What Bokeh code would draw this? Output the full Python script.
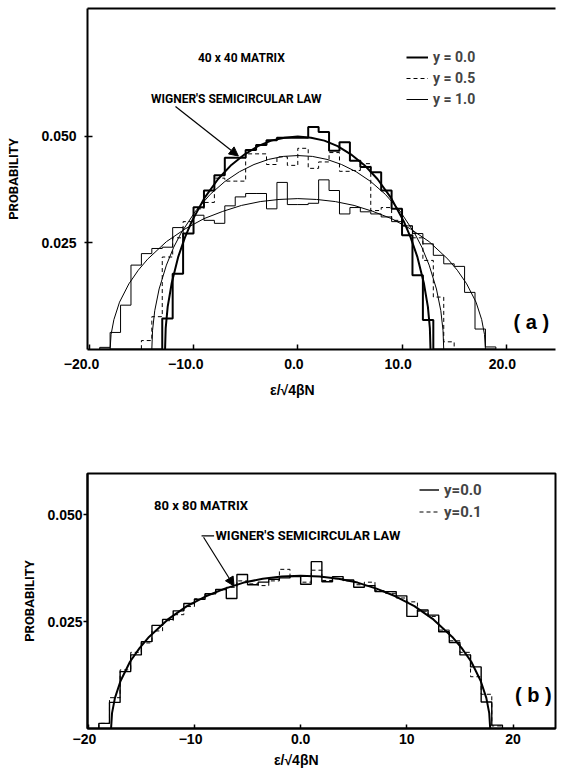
import math
from bokeh.plotting import figure
from bokeh.layouts import column
from bokeh.models import (Range1d, FixedTicker, LinearAxis, Label, Arrow,
                          NormalHead, Legend, LegendItem)
from bokeh.embed import file_html
from bokeh.resources import INLINE
from bokeh.core.properties import value

# ---------------- data ----------------
bin_edges = [-19, -18, -17, -16, -15, -14, -13, -12, -11, -10, -9, -8, -7, -6, -5, -4, -3, -2, -1,
             0, 1, 2, 3, 4, 5, 6, 7, 8, 9, 10, 11, 12, 13, 14, 15, 16, 17, 18, 19]

# panel (a): 40 x 40 matrix histograms (bins of width 1, from -19 to 19)
hist_a_y00 = [0, 0, 0, 0, 0, 0, 0.0073, 0.0178, 0.0272, 0.0334, 0.0373, 0.0409, 0.0450, 0.0450,
              0.0468, 0.0480, 0.0491, 0.0497, 0.0497, 0.0497, 0.0522, 0.0510, 0.0466, 0.0486,
              0.0443, 0.0428, 0.0416, 0.0373, 0.0330, 0.0268, 0.0174, 0.0069, 0, 0, 0, 0, 0, 0]
hist_a_y05 = [0, 0, 0, 0, 0.0021, 0.0077, 0.0217, 0.0262, 0.0300, 0.0330, 0.0345, 0.0402, 0.0395,
              0.0395, 0.0459, 0.0459, 0.0434, 0.0452, 0.0432, 0.0472, 0.0425, 0.0440, 0.0462,
              0.0418, 0.0420, 0.0436, 0.0326, 0.0333, 0.0303, 0.0290, 0.0262, 0.0209, 0.0123,
              0.0018, 0, 0, 0, 0]
hist_a_y10 = [0.0005, 0.0040, 0.0104, 0.0198, 0.0225, 0.0237, 0.0240, 0.0286, 0.0272, 0.0315,
              0.0303, 0.0296, 0.0337, 0.0358, 0.0366, 0.0366, 0.0330, 0.0392, 0.0340, 0.0340,
              0.0343, 0.0398, 0.0373, 0.0318, 0.0333, 0.0323, 0.0318, 0.0311, 0.0300, 0.0290,
              0.0272, 0.0248, 0.0221, 0.0201, 0.0195, 0.0134, 0.0048, 0.0006]

# panel (b): 80 x 80 matrix histograms
hist_b_y00 = [0.0012, 0.0061, 0.0133, 0.0172, 0.0203, 0.0241, 0.0255, 0.0275, 0.0292, 0.0302,
              0.0315, 0.0325, 0.0304, 0.0360, 0.0336, 0.0342, 0.0349, 0.0352, 0.0355, 0.0337,
              0.0390, 0.0343, 0.0355, 0.0347, 0.0330, 0.0334, 0.0320, 0.0320, 0.0310, 0.0262,
              0.0277, 0.0265, 0.0226, 0.0201, 0.0172, 0.0144, 0.0062, 0.0008]
hist_b_y01 = [0.0012, 0.0072, 0.0137, 0.0178, 0.0200, 0.0228, 0.0252, 0.0266, 0.0285, 0.0303,
              0.0314, 0.0324, 0.0330, 0.0345, 0.0338, 0.0334, 0.0345, 0.0372, 0.0356, 0.0342,
              0.0370, 0.0346, 0.0350, 0.0345, 0.0336, 0.0342, 0.0322, 0.0316, 0.0305, 0.0296,
              0.0274, 0.0262, 0.0230, 0.0205, 0.0178, 0.0121, 0.0080, 0.0006]

# Wigner semicircle curves
curve_a00_x = [-12.73, -12.67, -12.48, -12.09, -11.46, -10.82, -10.18, -8.91, -7.64, -6.37, -5.09,
               -3.82, -2.55, -1.27, 0.0, 1.27, 2.55, 3.82, 5.09, 6.37, 7.64, 8.91, 10.18, 10.82,
               11.46, 12.09, 12.48, 12.67, 12.73]
curve_a00_y = [0.0, 0.0050, 0.0100, 0.0156, 0.0218, 0.0263, 0.0300, 0.0357, 0.0400, 0.0433, 0.0458,
               0.0477, 0.0490, 0.0497, 0.0500, 0.0497, 0.0490, 0.0477, 0.0458, 0.0433, 0.0400,
               0.0357, 0.0300, 0.0263, 0.0218, 0.0156, 0.0100, 0.0050, 0.0]
curve_a05_x = [-14.0, -13.93, -13.72, -13.30, -12.60, -11.90, -11.20, -9.80, -8.40, -7.00, -5.60,
               -4.20, -2.80, -1.40, 0.0, 1.40, 2.80, 4.20, 5.60, 7.00, 8.40, 9.80, 11.20, 11.90,
               12.60, 13.30, 13.72, 13.93, 14.0]
curve_a05_y = [0.0, 0.0045, 0.0091, 0.0142, 0.0198, 0.0240, 0.0273, 0.0325, 0.0364, 0.0394, 0.0417,
               0.0434, 0.0446, 0.0453, 0.0455, 0.0453, 0.0446, 0.0434, 0.0417, 0.0394, 0.0364,
               0.0325, 0.0273, 0.0240, 0.0198, 0.0142, 0.0091, 0.0045, 0.0]
curve_a10_x = [-18.0, -17.91, -17.64, -17.10, -16.20, -15.30, -14.40, -12.60, -10.80, -9.00, -7.20,
               -5.40, -3.60, -1.80, 0.0, 1.80, 3.60, 5.40, 7.20, 9.00, 10.80, 12.60, 14.40, 15.30,
               16.20, 17.10, 17.64, 17.91, 18.0]
curve_a10_y = [0.0, 0.0035, 0.0070, 0.0111, 0.0154, 0.0186, 0.0212, 0.0253, 0.0283, 0.0307, 0.0324,
               0.0338, 0.0347, 0.0352, 0.0354, 0.0352, 0.0347, 0.0338, 0.0324, 0.0307, 0.0283,
               0.0253, 0.0212, 0.0186, 0.0154, 0.0111, 0.0070, 0.0035, 0.0]
curve_b_x = [-17.85, -17.76, -17.49, -16.96, -16.07, -15.17, -14.28, -12.50, -10.71, -8.93, -7.14,
             -5.36, -3.57, -1.79, 0.0, 1.79, 3.57, 5.36, 7.14, 8.93, 10.71, 12.50, 14.28, 15.17,
             16.07, 16.96, 17.49, 17.76, 17.85]
curve_b_y = [0.0, 0.0036, 0.0071, 0.0111, 0.0156, 0.0188, 0.0214, 0.0255, 0.0286, 0.0309, 0.0327,
             0.0341, 0.0350, 0.0355, 0.0357, 0.0355, 0.0350, 0.0341, 0.0327, 0.0309, 0.0286,
             0.0255, 0.0214, 0.0188, 0.0156, 0.0111, 0.0071, 0.0036, 0.0]

# ticks
xticks_a = [-20, -10, 0, 10, 20]
xtick_labels_a = ["\u221220.0", "\u221210.0", "0.0", "10.0", "20.0"]
xticks_b = [-20, -10, 0, 10, 20]
xtick_labels_b = ["\u221220", "\u221210", "0.0", "10", "20"]
yticks = [0.025, 0.050]
ytick_labels = ["0.025", "0.050"]

legend_a = ["y = 0.0", "y = 0.5", "y = 1.0"]
legend_b = ["y=0.0", "y=0.1"]

x_title = "ε/√4βN"
y_title = "PROBABILITY"

# ---------------- helpers ----------------
TICK_FONT = "Liberation Sans"
TEXT_FONT = "Roboto"
NBSP = "\u00a0"


def stair(edges, vals):
    xs = [edges[0]] + list(edges)
    ys = [0.0] + list(vals) + [0.0]
    return xs, ys


def style_axes(p, xticks, xlabels, x_pad, x_in, x_std, y_in, y_out, y_std,
               x_label, x_label_std, y_label_std):
    xa = p.xaxis[0]
    xa.ticker = FixedTicker(ticks=xticks)
    xa.major_label_overrides = {t: l + NBSP * n for t, l, n in zip(xticks, xlabels, x_pad)}
    xa.major_tick_in = x_in
    xa.major_tick_out = 0
    xa.major_label_standoff = x_std
    xa.axis_label = x_label
    xa.axis_label_standoff = x_label_std
    xa.axis_label_text_font = TICK_FONT
    xa.axis_label_text_font_size = "14px"
    ya = p.yaxis[0]
    ya.ticker = FixedTicker(ticks=yticks)
    ya.major_label_overrides = {t: l for t, l in zip(yticks, ytick_labels)}
    ya.major_tick_in = y_in
    ya.major_tick_out = y_out
    ya.major_label_standoff = y_std
    ya.axis_label = y_title
    ya.axis_label_standoff = y_label_std
    ya.axis_label_text_font = TEXT_FONT
    ya.axis_label_text_font_size = "13px"
    for ax in (xa, ya):
        ax.axis_line_width = 2
        ax.axis_line_color = "black"
        ax.major_tick_line_width = 1.5
        ax.major_tick_line_color = "black"
        ax.minor_tick_line_color = None
        ax.major_label_text_font = TICK_FONT
        ax.major_label_text_font_style = "bold"
        ax.major_label_text_font_size = "14px"
        ax.major_label_text_color = "black"
        ax.axis_label_text_font_style = "bold"
        ax.axis_label_text_color = "black"
    p.xgrid.visible = False
    p.ygrid.visible = False


def txt(p, x, y, text, size, **kw):
    opts = dict(x=x, y=y, text=text, text_font=TEXT_FONT, text_font_style="bold",
                text_font_size=size, text_color="black", text_baseline="middle",
                text_align="left")
    opts.update(kw)
    p.add_layout(Label(**opts))


# ---------------- panel (a) ----------------
pa = figure(width=566, height=408, output_backend="svg", toolbar_location=None,
            x_range=Range1d(-20.17, 24.72), y_range=Range1d(0, 0.0800),
            min_border_left=87, min_border_right=0, min_border_top=8, min_border_bottom=59)
pa.outline_line_color = None
style_axes(pa, xticks_a, xtick_labels_a, [4, 4, 2, 2, 2], 5, 6, 5, 3, 8,
           x_title + NBSP * 15, 7, 17)
top_a = LinearAxis(ticker=FixedTicker(ticks=[]), axis_line_width=2, axis_line_color="black",
                   major_tick_in=0, major_tick_out=0, minor_tick_in=0, minor_tick_out=0,
                   major_label_text_font_size="0px", major_label_standoff=0)
pa.add_layout(top_a, "above")

xs, ys = stair(bin_edges, hist_a_y00)
r_a0 = pa.step(xs, ys, mode="after", line_color="black", line_width=2)
xs, ys = stair(bin_edges, hist_a_y05)
r_a5 = pa.step(xs, ys, mode="after", line_color="black", line_width=1, line_dash="4 3")
xs, ys = stair(bin_edges, hist_a_y10)
r_a1 = pa.step(xs, ys, mode="after", line_color="black", line_width=1)

pa.line(curve_a00_x, curve_a00_y, line_color="black", line_width=2)
pa.line(curve_a05_x, curve_a05_y, line_color="black", line_width=1)
pa.line(curve_a10_x, curve_a10_y, line_color="black", line_width=1)

leg_a = Legend(items=[LegendItem(label=value(legend_a[0]), renderers=[r_a0]),
                      LegendItem(label=value(legend_a[1]), renderers=[r_a5]),
                      LegendItem(label=value(legend_a[2]), renderers=[r_a1])],
               location=(319, 240), border_line_color=None, background_fill_alpha=0,
               padding=0, margin=0, spacing=1, glyph_width=22, glyph_height=20,
               label_height=20, label_standoff=5, label_text_font=TEXT_FONT,
               label_text_font_style="bold", label_text_font_size="14px")
pa.add_layout(leg_a)

txt(pa, -9.58, 0.0685, "40 x 40 MATRIX", "12px")
txt(pa, -14.08, 0.0587, "WIGNER'S SEMICIRCULAR LAW", "12px")
pa.add_layout(Arrow(end=NormalHead(size=9, line_color="black", fill_color="black"),
                    x_start=-11.73, y_start=0.0570, x_end=-5.7, y_end=0.0454,
                    line_color="black", line_width=1.2))
txt(pa, 20.7, 0.0064, "( a )", "20px", text_font=TICK_FONT)

# ---------------- panel (b) ----------------
pb = figure(width=566, height=365, output_backend="svg", toolbar_location=None,
            x_range=Range1d(-20.07, 24.0), y_range=Range1d(0, 0.0596),
            min_border_left=83, min_border_right=11, min_border_top=65, min_border_bottom=45)
pb.outline_line_color = "black"
pb.outline_line_width = 2
pb.outline_line_alpha = 1
style_axes(pb, xticks_b, xtick_labels_b, [2, 2, 0, 0, 0], 4, 2, 0, 4, 1,
           x_title + NBSP * 13, 2, 7)

xs, ys = stair(bin_edges, hist_b_y00)
r_b0 = pb.step(xs, ys, mode="after", line_color="black", line_width=1.4)
xs, ys = stair(bin_edges, hist_b_y01)
r_b1 = pb.step(xs, ys, mode="after", line_color="black", line_width=1, line_dash="4 3")
pb.line(curve_b_x, curve_b_y, line_color="black", line_width=2)

leg_b = Legend(items=[LegendItem(label=value(legend_b[0]), renderers=[r_b0]),
                      LegendItem(label=value(legend_b[1]), renderers=[r_b1])],
               location=(332, 206), border_line_color=None, background_fill_alpha=0,
               padding=0, margin=0, spacing=1, glyph_width=20, glyph_height=21,
               label_height=21, label_standoff=5, label_text_font=TEXT_FONT,
               label_text_font_style="bold", label_text_font_size="15px")
pb.add_layout(leg_b)

txt(pb, -13.81, 0.0521, "80 x 80 MATRIX", "13px")
txt(pb, -8.02, 0.0450, "WIGNER'S SEMICIRCULAR LAW", "13px")
pb.add_layout(Arrow(end=None, x_start=-9.33, y_start=0.0450, x_end=-8.15, y_end=0.0450,
                    line_color="black", line_width=1.2))
pb.add_layout(Arrow(end=NormalHead(size=9, line_color="black", fill_color="black"),
                    x_start=-9.14, y_start=0.0447, x_end=-6.27, y_end=0.0333,
                    line_color="black", line_width=1.2))
txt(pb, 20.18, 0.0078, "( b )", "20px", text_font=TICK_FONT)

layout = column(pa, pb)
open("out.html", "w").write(file_html(layout, INLINE))
